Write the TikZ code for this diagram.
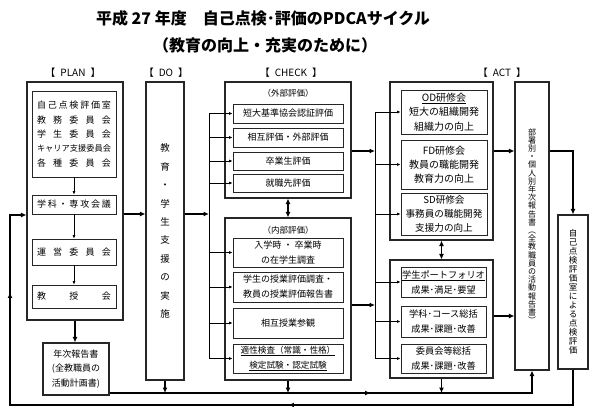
\documentclass[tikz,border=0pt]{standalone}
\usepackage{fontspec}
\setmainfont{Noto Sans CJK JP}
\usetikzlibrary{arrows.meta, positioning, calc, decorations.markings}

\newcommand{\planline}[1]{\makebox[74pt]{#1}}

\begin{document}
\begin{tikzpicture}[x=1pt, y=-1pt,
    outerbox/.style={draw=black!85, line width=1.1pt, inner sep=0pt, align=center},
    innerbox/.style={draw=black!85, line width=0.8pt, inner sep=0pt, align=center},
    flow/.style={line width=1.7pt, -{Latex[length=5.5pt, width=5pt]}},
    twoway/.style={line width=1.7pt, {Latex[length=5.5pt, width=5pt]}-{Latex[length=5.5pt, width=5pt]}},
    feed/.style={line width=0.7pt, -{Latex[length=3.5pt, width=3pt]}},
    midtip/.style={postaction={decorate, decoration={markings,
        mark=at position #1 with {\arrow{Latex[length=5.5pt, width=5pt]}}}}},
    head/.style={font=\fontsize{10}{12}\selectfont},
    txt/.style={font=\fontsize{9}{14.3}\selectfont}]
    \useasboundingbox (0,0) rectangle (592,407);

    % Title
    \node[font=\bfseries\fontsize{16}{18}\selectfont] (title) at (263,18) {平成 27 年度　自己点検･評価のPDCAサイクル};
    \node[font=\bfseries\fontsize{16}{18}\selectfont] (subtitle) at (265,45) {（教育の向上・充実のために）};

    % Column headers
    \node[head] (hplan) at (73,73) {【\enspace PLAN\enspace 】};
    \node[head] (hdo) at (166,73) {【\enspace DO\enspace 】};
    \node[head] (hcheck) at (291,73) {【\enspace CHECK\enspace 】};
    \node[head] (hact) at (502,73) {【\enspace ACT\enspace 】};

    % PLAN
    \node[outerbox, minimum width=96, minimum height=238] (plan) at (75,201) {};
    \node[innerbox, txt, minimum width=84, minimum height=86] (p1) at (74,134)
        {\planline{自\hfill 己\hfill 点\hfill 検\hfill 評\hfill 価\hfill 室}\\
         \planline{教\hfill 務\hfill 委\hfill 員\hfill 会}\\
         \planline{学\hfill 生\hfill 委\hfill 員\hfill 会}\\
         \planline{\fontsize{8.2}{14.3}\selectfont キ\hfill ャ\hfill リ\hfill ア\hfill 支\hfill 援\hfill 委\hfill 員\hfill 会}\\
         \planline{各\hfill 種\hfill 委\hfill 員\hfill 会}};
    \node[innerbox, txt, minimum width=84, minimum height=19] (p2) at (74,204.5)
        {\planline{学\hfill 科\hfill ・\hfill 専\hfill 攻\hfill 会\hfill 議}};
    \node[innerbox, txt, minimum width=84, minimum height=26] (p3) at (74,252)
        {\planline{運\hfill 営\hfill 委\hfill 員\hfill 会}};
    \node[innerbox, txt, minimum width=84, minimum height=23] (p4) at (74,296.5)
        {\planline{教\hfill 授\hfill 会}};
    \draw[feed] (p1) -- (p2);
    \draw[feed] (p2) -- (p3);
    \draw[feed] (p3) -- (p4);

    % Annual plan
    \node[outerbox, txt, minimum width=66, minimum height=52] (nenji) at (76,369)
        {年次報告書\\(全教職員の\\活動計画書)};
    \draw[flow] (plan.south) -- (plan.south |- nenji.north);

    % DO
    \node[outerbox, font=\fontsize{9.5}{18.4}\selectfont, minimum width=38, minimum height=298] (do) at (165,231)
        {教\\育\\・\\学\\生\\支\\援\\の\\実\\施};

    % CHECK: external evaluation
    \node[outerbox, minimum width=126, minimum height=116] (ext) at (288,140) {};
    \node[font=\fontsize{8.5}{10}\selectfont] (extlabel) at (288,93) {（外部評価）};
    \node[innerbox, txt, minimum width=110, minimum height=19] (e1) at (288,113.5) {短大基準協会認証評価};
    \node[innerbox, txt, minimum width=110, minimum height=19] (e2) at (288,137.5) {相互評価・外部評価};
    \node[innerbox, txt, minimum width=110, minimum height=18] (e3) at (288,161) {卒業生評価};
    \node[innerbox, txt, minimum width=110, minimum height=18] (e4) at (288,183) {就職先評価};

    % CHECK: internal evaluation
    \node[outerbox, minimum width=126, minimum height=162] (int) at (288,299) {};
    \node[font=\fontsize{8.5}{10}\selectfont] (intlabel) at (288,230) {（内部評価）};
    \node[innerbox, font=\fontsize{9}{15}\selectfont, minimum width=110, minimum height=29] (i1) at (288,252.5)
        {入学時 ・ 卒業時\\の在学生調査};
    \node[innerbox, font=\fontsize{9}{15}\selectfont, minimum width=110, minimum height=30] (i2) at (288,287)
        {学生の授業評価調査・\\教員の授業評価報告書};
    \node[innerbox, txt, minimum width=110, minimum height=30] (i3) at (288,323) {相互授業参観};
    \node[innerbox, font=\fontsize{8.6}{15}\selectfont, minimum width=110, minimum height=29] (i4) at (288,358.5)
        {\underline{適性検査（常識・性格）}\\\underline{検定試験・認定試験}};
    \draw[twoway] (ext.south) -- (int.north);

    % DO -> CHECK bus
    \coordinate (cbus) at (209,214);
    \draw[flow] (plan.east |- cbus) -- (do.west |- cbus);
    \draw[flow] (do.east |- cbus) -- (cbus);
    \draw[line width=0.7pt] (e1.west -| cbus) -- (i4.west -| cbus);
    \foreach \n in {e1,e2,e3,e4,i1,i2,i3,i4}
        \draw[feed] (\n.west -| cbus) -- (\n.west);

    % ACT: training
    \node[outerbox, minimum width=103, minimum height=158] (actU) at (441.5,161) {};
    \node[innerbox, font=\fontsize{10}{14.5}\selectfont, minimum width=86, minimum height=44] (od) at (444,112)
        {\underline{OD研修会}\\短大の組織開発\\組織力の向上};
    \node[innerbox, font=\fontsize{10}{14}\selectfont, minimum width=86, minimum height=49] (fd) at (444,164.5)
        {FD研修会\\教員の職能開発\\教育力の向上};
    \node[innerbox, font=\fontsize{9.6}{14}\selectfont, minimum width=86, minimum height=42] (sd) at (444,214)
        {SD研修会\\事務員の職能開発\\支援力の向上};

    % ACT: summaries
    \node[outerbox, minimum width=103, minimum height=118] (actL) at (441.5,319) {};
    \node[innerbox, font=\fontsize{9.2}{15}\selectfont, minimum width=85, minimum height=30] (l1) at (443.5,282)
        {\underline{学生ポートフォリオ}\\成果･満足･要望};
    \node[innerbox, font=\fontsize{9.2}{15}\selectfont, minimum width=85, minimum height=31] (l2) at (443.5,321.5)
        {学科･コース総括\\成果･課題･改善};
    \node[innerbox, font=\fontsize{9.2}{15}\selectfont, minimum width=85, minimum height=29] (l3) at (443.5,358.5)
        {委員会等総括\\成果･課題･改善};
    \draw[twoway] (actU.south) -- (actL.north);

    % CHECK -> ACT bus
    \coordinate (abus) at (375,151);
    \coordinate (abus2) at (375,305);
    \draw[flow] (ext.east |- abus) -- (abus);
    \draw[flow] (int.east |- abus2) -- (abus2);
    \draw[line width=0.7pt] (od.west -| abus) -- (l3.west -| abus);
    \foreach \n in {od,fd,sd,l1,l2,l3}
        \draw[feed] (\n.west -| abus) -- (\n.west);

    % Reports
    \node[outerbox, font=\fontsize{8}{8.2}\selectfont, minimum width=34, minimum height=288] (busho) at (532,226)
        {部\\署\\別\\・\\個\\人\\別\\年\\次\\報\\告\\書\\︵\\全\\教\\職\\員\\の\\活\\動\\報\\告\\書\\︶};
    \node[outerbox, font=\fontsize{8.5}{9}\selectfont, minimum width=30, minimum height=154] (self) at (573,292)
        {自\\己\\点\\検\\評\\価\\室\\に\\よ\\る\\点\\検\\評\\価};
    \coordinate (rlow) at (500,316);
    \draw[flow] (actU.east |- abus) -- (busho.west |- abus);
    \draw[flow] (actL.east |- rlow) -- (busho.west |- rlow);
    \draw[flow] (busho.east |- abus) -| (self.north);

    % Report line
    \coordinate (rep) at (0,393);
    \foreach \n in {do,int,actL}
        \draw[flow] (\n.south) -- (\n.south |- rep);
    \draw[flow, midtip=261pt] (nenji.east |- rep) -- (busho.south |- rep) -- (busho.south);

    % Return to PLAN
    \coordinate (loopB) at (10,405);
    \coordinate (loopT) at (10,215);
    \draw[flow, midtip=320pt, midtip=711pt] (self.south) -- (self.south |- loopB) -- (loopB) -- (loopT) -- (loopT -| plan.west);
\end{tikzpicture}
\end{document}
